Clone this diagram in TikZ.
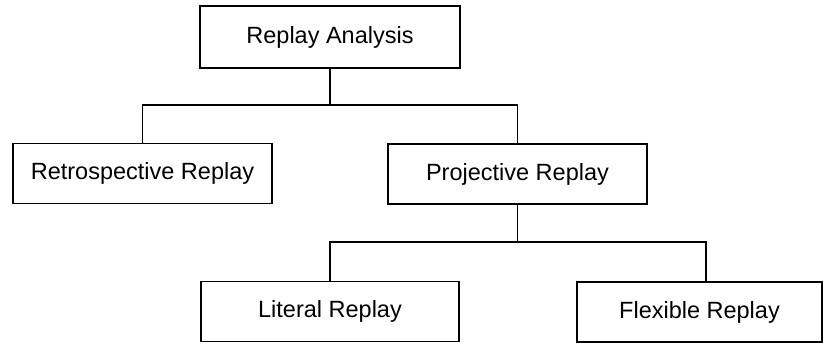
\documentclass[tikz,border=0pt]{standalone}
\usepackage{fontspec}
\setmainfont{Liberation Sans}
\usepackage{tikz}
\usetikzlibrary{positioning}

\begin{document}
\begin{tikzpicture}[x=1pt, y=-1pt, line width=1.6pt, every node/.style={font=\fontsize{23.5}{27}\selectfont}, box/.style={draw, rectangle, inner sep=0pt, minimum height=60pt}]
		\useasboundingbox (0, 0) rectangle (823, 343);
		\node[box, minimum width=260pt, minimum height=62pt] (ana) at (330, 37) {Replay Analysis};
		\node[box, minimum width=259pt] (retro) at (142.5, 173.5) {Retrospective Replay};
		\node[box, minimum width=259pt] (proj) at (517.5, 174) {Projective Replay};
		\node[box, minimum width=258pt] (lit) at (330, 311.5) {Literal Replay};
		\node[box, minimum width=245pt] (flex) at (699.5, 312) {Flexible Replay};
		
		\coordinate (j1) at (330, 105);
		\coordinate (j2) at (517.5, 242);
		
		\draw (ana.south) -- (j1) -| (retro.north);
		\draw (j1) -| (proj.north);
		\draw (proj.south) -- (j2) -| (lit.north);
		\draw (j2) -| ([xshift=6.5pt]flex.north);
		
	\end{tikzpicture}
\end{document}
